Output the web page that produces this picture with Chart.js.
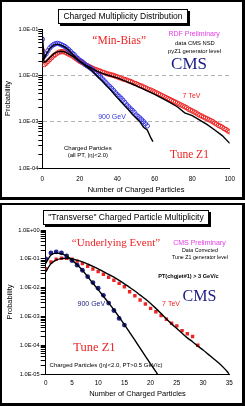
<!DOCTYPE html>
<html>
<head>
<meta charset="utf-8">
<script src="https://cdn.jsdelivr.net/npm/chart.js@4.4.1/dist/chart.umd.min.js"></script>
<style>
  html, body { margin: 0; padding: 0; background: #fff; }
  body { width: 245px; height: 406px; position: relative; overflow: hidden; }
  .panel { position: absolute; left: 0; width: 245px; box-sizing: border-box;
           border: solid #000; border-width: 2px 3px 3px 2px; background: #fff; }
  #p1 { top: 0; height: 200px; }
  #p2 { top: 203px; height: 203px; }
  canvas { display: block; }
</style>
</head>
<body>
<div class="panel" id="p1"><canvas id="c1" width="240" height="195"></canvas></div>
<div class="panel" id="p2"><canvas id="c2" width="240" height="198"></canvas></div>
<script>
const SANS = '"Liberation Sans", Arial, sans-serif';
const SERIF = '"Liberation Serif", "Times New Roman", serif';
const RED = "#ee2424";
const BLUE = "#3434e4";
const NAVY = "#1c1c84";
const MAGENTA = "#e63ce6";

// ---- top: charged multiplicity distribution (n = 0, 1, 2, ...) ----
const topXTicks = [0, 20, 40, 60, 80, 100];
const topDecades = [1e-4, 1e-3, 1e-2, 1e-1];
const topDecadeLabels = ["1.0E-04", "1.0E-03", "1.0E-02", "1.0E-01"];
const topGridAt = [1e-3, 1e-2];

const cms900 = [
  6.0e-2, 2.6e-2, 2.9e-2, 3.4e-2, 3.9e-2, 4.3e-2, 4.6e-2, 4.8e-2, 4.9e-2, 4.8e-2,
  4.6e-2, 4.4e-2, 4.2e-2, 3.9e-2, 3.6e-2, 3.3e-2, 3.0e-2, 2.8e-2, 2.5e-2, 2.3e-2,
  2.1e-2, 2.0e-2, 1.85e-2, 1.7e-2, 1.6e-2, 1.5e-2, 1.4e-2, 1.3e-2, 1.2e-2, 1.1e-2,
  1.0e-2, 9.2e-3, 8.4e-3, 7.6e-3, 6.9e-3, 6.2e-3, 5.7e-3, 5.2e-3, 4.7e-3, 4.2e-3,
  3.8e-3, 3.5e-3, 3.2e-3, 2.9e-3, 2.6e-3, 2.3e-3, 2.1e-3, 1.9e-3, 1.75e-3, 1.6e-3,
  1.4e-3, 1.3e-3, 1.2e-3, 1.1e-3, 1.0e-3, 9.0e-4, 8.1e-4
];
const cms7 = [
  3.5e-2, 1.7e-2, 1.82e-2, 2.0e-2, 2.19e-2, 2.4e-2, 2.63e-2, 2.82e-2, 3.02e-2, 3.16e-2,
  3.24e-2, 3.24e-2, 3.16e-2, 3.02e-2, 2.88e-2, 2.75e-2, 2.63e-2, 2.45e-2, 2.29e-2, 2.14e-2,
  2.0e-2, 1.91e-2, 1.82e-2, 1.7e-2, 1.62e-2, 1.55e-2, 1.48e-2, 1.41e-2, 1.35e-2, 1.32e-2,
  1.26e-2, 1.23e-2, 1.17e-2, 1.15e-2, 1.1e-2, 1.07e-2, 1.05e-2, 1.02e-2, 1.0e-2, 9.55e-3,
  9.33e-3, 8.91e-3, 8.71e-3, 8.32e-3, 8.13e-3, 7.94e-3, 7.59e-3, 7.41e-3, 7.08e-3, 6.76e-3,
  6.61e-3, 6.31e-3, 6.03e-3, 5.89e-3, 5.62e-3, 5.37e-3, 5.13e-3, 4.9e-3, 4.79e-3, 4.57e-3,
  4.37e-3, 4.17e-3, 3.98e-3, 3.8e-3, 3.63e-3, 3.47e-3, 3.31e-3, 3.16e-3, 3.02e-3, 2.88e-3,
  2.75e-3, 2.63e-3, 2.51e-3, 2.4e-3, 2.29e-3, 2.19e-3, 2.09e-3, 2.0e-3, 1.86e-3, 1.78e-3,
  1.7e-3, 1.62e-3, 1.55e-3, 1.45e-3, 1.38e-3, 1.32e-3, 1.26e-3, 1.2e-3, 1.15e-3, 1.1e-3,
  1.05e-3, 1.0e-3, 9.33e-4, 8.91e-4, 8.32e-4, 7.94e-4, 7.59e-4, 7.08e-4, 6.76e-4, 6.31e-4,
  6.03e-4
];
const z1t900N = [0, 1, 2, 4, 6, 8, 10, 12, 14, 16, 18, 20, 22, 24, 26, 28, 30, 32, 34, 36,
  38, 40, 42, 44, 46, 48, 50, 52, 54, 56, 58, 59];
const z1t900P = [7.5e-2, 2.3e-2, 2.8e-2, 3.8e-2, 4.5e-2, 4.7e-2, 4.5e-2, 4.1e-2, 3.5e-2, 2.9e-2,
  2.4e-2, 2.0e-2, 1.75e-2, 1.5e-2, 1.3e-2, 1.1e-2, 9.0e-3, 7.5e-3, 6.2e-3, 5.1e-3,
  4.1e-3, 3.3e-3, 2.7e-3, 2.2e-3, 1.8e-3, 1.45e-3, 1.2e-3, 1.0e-3, 7.6e-4, 6.6e-4, 4.4e-4, 3.7e-4];
const z1t7N = [0, 1, 2, 4, 6, 8, 10, 12, 14, 16, 18, 20, 24, 28, 32, 36, 40, 44, 48, 52,
  56, 60, 64, 68, 72, 76, 80, 84, 88, 92, 96, 100];
const z1t7P = [3.0e-2, 1.9e-2, 2.0e-2, 2.4e-2, 2.9e-2, 3.2e-2, 3.3e-2, 3.2e-2, 2.9e-2, 2.6e-2,
  2.3e-2, 2.0e-2, 1.6e-2, 1.3e-2, 1.1e-2, 9.8e-3, 8.8e-3, 7.6e-3, 6.5e-3, 5.5e-3,
  4.6e-3, 3.9e-3, 3.2e-3, 2.6e-3, 2.1e-3, 1.55e-3, 1.35e-3, 1.08e-3, 8.6e-4, 6.6e-4, 5.0e-4, 3.4e-4];

// ---- bottom: "transverse" charged particle multiplicity (n = 0, 1, 2, ...) ----
const botXTicks = [0, 5, 10, 15, 20, 25, 30, 35];
const botDecades = [1e-5, 1e-4, 1e-3, 1e-2, 1e-1, 1];
const botDecadeLabels = ["1.0E-05", "1.0E-04", "1.0E-03", "1.0E-02", "1.0E-01", "1.0E+00"];

const ue900 = [1.0e-1, 1.6e-1, 1.75e-1, 1.6e-1, 1.25e-1, 8.7e-2, 6.0e-2, 4.0e-2, 2.4e-2, 1.5e-2,
  9.5e-3, 5.4e-3, 2.9e-3, 1.6e-3, 8.5e-4, 5.0e-4];
const ue7 = [4.5e-2, 7.7e-2, 9.6e-2, 1.05e-1, 1.05e-1, 9.6e-2, 8.3e-2, 6.8e-2, 5.5e-2, 4.4e-2,
  3.6e-2, 2.9e-2, 2.3e-2, 1.8e-2, 1.4e-2, 1.07e-2, 7.2e-3, 5.2e-3, 3.7e-3, 2.7e-3,
  1.9e-3, 1.45e-3, 1.07e-3, 8.0e-4, 5.8e-4, 4.7e-4, 3.2e-4, 2.5e-4, 2.0e-4, 1.0e-4];
const ueZ1t900 = [7.0e-2, 1.35e-1, 1.58e-1, 1.52e-1, 1.25e-1, 9.0e-2, 6.2e-2, 4.0e-2, 2.4e-2, 1.41e-2,
  8.5e-3, 5.0e-3, 2.95e-3, 1.7e-3, 9.5e-4, 5.2e-4, 2.8e-4, 1.5e-4, 7.9e-5, 4.2e-5,
  2.2e-5, 1.2e-5, 6.3e-6];
const ueZ1t7 = [3.5e-2, 6.8e-2, 9.1e-2, 1.02e-1, 1.05e-1, 1.0e-1, 8.9e-2, 7.8e-2, 6.6e-2, 5.5e-2,
  4.5e-2, 3.6e-2, 2.9e-2, 2.3e-2, 1.78e-2, 1.35e-2, 1.02e-2, 7.6e-3, 5.5e-3, 4.0e-3,
  2.8e-3, 1.9e-3, 1.26e-3, 8.3e-4, 5.5e-4, 3.8e-4, 2.6e-4, 1.8e-4, 1.32e-4, 9.3e-5,
  6.8e-5, 4.8e-5, 3.4e-5, 2.4e-5, 1.6e-5, 1.0e-5];

const seq = (ps) => ps.map((p, i) => ({ x: i, y: p }));
const pairs = (ns, ps) => ns.map((n, i) => ({ x: n, y: ps[i] }));
const same = (a, b) => Math.abs(a / b - 1) < 1e-6;

// text labels and the boxed title, drawn on top of the plot
const notesPlugin = {
  id: "notes",
  afterDatasetsDraw(chart, args, opts) {
    const { ctx, scales: { x, y } } = chart;
    ctx.save();
    (opts.items || []).forEach((it) => {
      ctx.font = it.font;
      ctx.fillStyle = it.color || "#000";
      ctx.textAlign = "center";
      ctx.textBaseline = "middle";
      ctx.fillText(it.text, x.getPixelForValue(it.x), y.getPixelForValue(it.y));
    });
    const b = opts.box;
    if (b) {
      ctx.font = b.font;
      const w = Math.round(ctx.measureText(b.text).width + b.pad * 2);
      const left = Math.round(b.cx - w / 2) + 0.5;
      const top = b.top + 0.5;
      ctx.fillStyle = "#000";
      ctx.fillRect(left + 1.5, top + 1.5, w + 1, b.h + 1); // drop shadow
      ctx.fillStyle = "#fff";
      ctx.fillRect(left, top, w, b.h);
      ctx.strokeStyle = "#000";
      ctx.lineWidth = 1;
      ctx.strokeRect(left, top, w, b.h);
      ctx.fillStyle = "#000";
      ctx.textAlign = "center";
      ctx.textBaseline = "middle";
      ctx.fillText(b.text, left + w / 2, top + b.h / 2 + 0.5);
    }
    ctx.restore();
  },
};

function makeOptions(c) {
  return {
    responsive: false,
    animation: false,
    events: [],
    layout: { padding: c.padding },
    plugins: {
      legend: { display: false },
      tooltip: { enabled: false },
      notes: { items: c.notes, box: c.box },
    },
    scales: {
      x: {
        type: "linear",
        min: c.xTicks[0],
        max: c.xTicks[c.xTicks.length - 1],
        afterBuildTicks: (s) => { s.ticks = c.xTicks.map((v) => ({ value: v })); },
        afterFit: (s) => { s.height = c.xHeight; },
        grid: { display: false, drawTicks: false, tickLength: 0 },
        border: { display: true, color: "#000", width: 1 },
        ticks: { color: "#000", font: { family: SANS, size: 6.3 }, padding: c.xPad, maxRotation: 0, autoSkip: false },
        title: {
          display: true, text: "Number of Charged Particles", color: "#000",
          font: { family: SANS, size: 7.5 }, padding: { top: 0, bottom: c.xTitlePad },
        },
      },
      y: {
        type: "logarithmic",
        min: c.decades[0],
        max: c.decades[c.decades.length - 1],
        afterBuildTicks: (s) => {
          const t = [];
          c.decades.forEach((d, i) => {
            if (i === c.decades.length - 1) { t.push({ value: d }); return; }
            for (let m = 1; m < 10; m++) t.push({ value: d * m });
          });
          s.ticks = t;
        },
        afterFit: (s) => { s.width = c.yWidth; },
        grid: {
          drawOnChartArea: c.gridAt.length > 0,
          drawTicks: true,
          tickLength: c.tickLen,
          tickColor: "#000",
          color: (ctx) => (ctx.tick && c.gridAt.some((g) => same(ctx.tick.value, g)) ? "#b4b4b4" : "rgba(0,0,0,0)"),
        },
        border: { display: true, color: "#000", width: 1, dash: [4, 3] },
        ticks: {
          color: "#000",
          autoSkip: false,
          padding: c.yPad,
          font: { family: SANS, size: 5.7 },
          callback: (v) => {
            const i = c.decades.findIndex((d) => same(v, d));
            return i >= 0 ? c.decadeLabels[i] : "";
          },
        },
        title: {
          display: true, text: "Probability", color: "#000",
          font: { family: SANS, size: 7.5 }, padding: { top: c.yTitlePad, bottom: 0 },
        },
      },
    },
  };
}

const lineSet = (data, smooth) => ({
  data, showLine: true, borderColor: "#000", borderWidth: 1.4,
  pointRadius: 0, tension: 0, cubicInterpolationMode: smooth ? "monotone" : "default", clip: 0,
});

new Chart(document.getElementById("c1"), {
  type: "scatter",
  data: {
    datasets: [
      lineSet(pairs(z1t900N, z1t900P), false),
      lineSet(pairs(z1t7N, z1t7P), false),
      { data: seq(cms900), pointStyle: "circle", pointRadius: 2.2, pointBorderWidth: 1,
        borderColor: BLUE, backgroundColor: "rgba(255,255,255,0)" },
      { data: seq(cms7), pointStyle: "circle", pointRadius: 2.2, pointBorderWidth: 1,
        borderColor: RED, backgroundColor: "rgba(255,255,255,0)" },
    ],
  },
  options: makeOptions({
    padding: { left: 0, top: 27, right: 9.7, bottom: 0 },
    xTicks: topXTicks, decades: topDecades, decadeLabels: topDecadeLabels, gridAt: topGridAt,
    xHeight: 29, yWidth: 40.3, xPad: 7, xTitlePad: 2.5, yPad: 0, tickLen: 4, yTitlePad: 1.5,
    box: { text: "Charged Multiplicity Distribution", font: `8.5px ${SANS}`, cx: 120, top: 7, h: 14, pad: 5 },
    notes: [
      { text: "\u201cMin-Bias\u201d", x: 41, y: 5.5e-2, font: `11.5px ${SERIF}`, color: RED },
      { text: "RDF Preliminary", x: 81, y: 7.8e-2, font: `7px ${SANS}`, color: MAGENTA },
      { text: "data CMS NSD", x: 81.4, y: 4.9e-2, font: `5.8px ${SANS}` },
      { text: "pyZ1 generator level", x: 81.2, y: 3.35e-2, font: `5.8px ${SANS}` },
      { text: "CMS", x: 78.3, y: 1.71e-2, font: `17px ${SERIF}`, color: NAVY },
      { text: "7 TeV", x: 79.6, y: 3.6e-3, font: `7px ${SANS}`, color: RED },
      { text: "900 GeV", x: 37.2, y: 1.28e-3, font: `7px ${SANS}`, color: BLUE },
      { text: "Charged Particles", x: 24.3, y: 2.65e-4, font: `6px ${SANS}` },
      { text: "(all PT, |\u03b7|<2.0)", x: 24.3, y: 1.9e-4, font: `6px ${SANS}` },
      { text: "Tune Z1", x: 78.5, y: 1.9e-4, font: `11.5px ${SERIF}`, color: RED },
    ],
  }),
  plugins: [notesPlugin],
});

new Chart(document.getElementById("c2"), {
  type: "scatter",
  data: {
    datasets: [
      lineSet(seq(ueZ1t900), true),
      lineSet(seq(ueZ1t7), true),
      { data: seq(ue900), pointStyle: "circle", pointRadius: 2.4, pointBorderWidth: 0,
        borderColor: NAVY, backgroundColor: "#22228e" },
      { data: seq(ue7), pointStyle: "rect", pointRadius: 2.4, pointBorderWidth: 0,
        borderColor: RED, backgroundColor: RED },
    ],
  },
  options: makeOptions({
    padding: { left: 0, top: 25, right: 12.7, bottom: 0 },
    xTicks: botXTicks, decades: botDecades, decadeLabels: botDecadeLabels, gridAt: [],
    xHeight: 29, yWidth: 43.7, xPad: 5, xTitlePad: 4.5, yPad: 1, tickLen: 5, yTitlePad: 3.5,
    box: { text: "\"Transverse\" Charged Particle Multiplicity", font: `8.5px ${SANS}`, cx: 123.5, top: 5, h: 14, pad: 5 },
    notes: [
      { text: "\u201cUnderlying Event\u201d", x: 13.4, y: 3.5e-1, font: `11px ${SERIF}`, color: RED },
      { text: "CMS Preliminary", x: 29.3, y: 3.5e-1, font: `7px ${SANS}`, color: MAGENTA },
      { text: "Data Corrected", x: 29.4, y: 1.9e-1, font: `5.3px ${SANS}` },
      { text: "Tune Z1 generator level", x: 29.4, y: 1.13e-1, font: `5.3px ${SANS}` },
      { text: "PT(chgjet#1) > 3 GeV/c", x: 27.2, y: 2.5e-2, font: `bold 5.6px ${SANS}` },
      { text: "CMS", x: 29.3, y: 4.8e-3, font: `16px ${SERIF}`, color: NAVY },
      { text: "7 TeV", x: 23.9, y: 2.7e-3, font: `7px ${SANS}`, color: RED },
      { text: "900 GeV", x: 8.7, y: 2.7e-3, font: `7px ${SANS}`, color: NAVY },
      { text: "Tune Z1", x: 9.3, y: 8.2e-5, font: `12.5px ${SERIF}`, color: RED },
      { text: "Charged Particles (|\u03b7|<2.0, PT>0.5 GeV/c)", x: 11.5, y: 1.95e-5, font: `6px ${SANS}` },
    ],
  }),
  plugins: [notesPlugin],
});
</script>
</body>
</html>
